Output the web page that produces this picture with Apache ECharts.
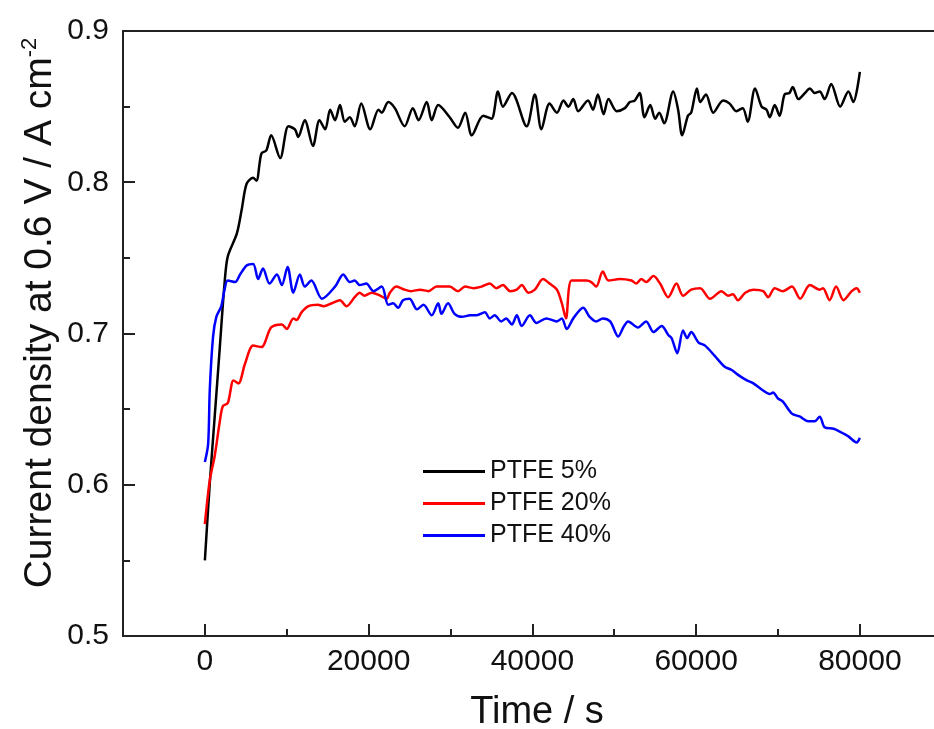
<!DOCTYPE html>
<html>
<head>
<meta charset="utf-8">
<script src="https://cdn.jsdelivr.net/npm/echarts@6/dist/echarts.min.js"></script>
<style>
html,body{margin:0;padding:0;background:#fff;overflow:hidden;}
#chart{width:934px;height:729px;}
</style>
</head>
<body>
<div id="chart"></div>
<script>
// ---- data (time in s, current density in A cm^-2) ----
var seriesNames = ['PTFE 5%', 'PTFE 20%', 'PTFE 40%'];
var xMajorTicks = [0, 20000, 40000, 60000, 80000];
var xMinorTicks = [10000, 30000, 50000, 70000];

var t5 = [0,600,1200,1800,2400,2800,3900,4500,5100,5900,6300,6900,7500,8100,9200,10200,11000,11400,12200,13200,14000,14700,15300,15900,16500,17100,17700,18300,19100,20200,21200,21600,22400,23200,24400,25400,26100,27100,27700,28500,29900,30900,31800,32600,34000,35000,35800,36400,37500,39300,40300,41100,42100,43000,43800,44400,45000,45600,46800,47400,48000,48700,49300,50300,51300,51900,52500,53100,53700,54400,55000,55500,56100,57200,57800,58300,59000,59400,60100,60500,61200,62100,63300,64100,64900,65700,66300,67200,68000,68600,69000,69600,70200,70800,71400,71800,72500,73300,73900,74500,75100,75700,76500,77600,78600,79200,80000];
var v5 = [0.550,0.601,0.645,0.689,0.733,0.751,0.766,0.782,0.799,0.803,0.801,0.819,0.821,0.831,0.816,0.837,0.835,0.830,0.841,0.824,0.841,0.835,0.848,0.841,0.851,0.840,0.843,0.837,0.852,0.835,0.848,0.846,0.853,0.849,0.837,0.849,0.841,0.853,0.841,0.851,0.843,0.836,0.846,0.831,0.844,0.842,0.860,0.850,0.859,0.837,0.858,0.835,0.852,0.846,0.854,0.850,0.855,0.847,0.854,0.848,0.858,0.845,0.855,0.847,0.849,0.853,0.854,0.859,0.843,0.851,0.842,0.846,0.839,0.860,0.848,0.831,0.844,0.846,0.862,0.853,0.858,0.846,0.854,0.852,0.847,0.849,0.840,0.862,0.850,0.848,0.843,0.851,0.844,0.858,0.859,0.863,0.855,0.859,0.862,0.859,0.860,0.855,0.865,0.850,0.860,0.853,0.873];

var t20 = [0,600,1200,1800,2200,2800,3500,4100,4900,5900,6900,8100,9400,10000,10800,11200,11800,12600,13800,14500,15500,16500,17300,18300,18900,19500,20400,21400,22200,22600,23400,24400,25200,26300,27300,28300,29900,30900,31800,32800,33800,34800,35600,36400,37300,38100,38700,39500,40300,41300,42100,43000,43600,44100,44800,46600,47200,47800,48600,49300,50700,52100,52700,53300,53900,54800,55600,56600,57600,58400,59400,60500,61700,63100,63900,64500,65100,66000,67000,68200,68800,69600,70600,71700,72700,73900,75100,75500,76300,77100,78000,79000,79600,80000];
var v20 = [0.574,0.603,0.619,0.641,0.652,0.654,0.669,0.667,0.680,0.692,0.691,0.704,0.706,0.703,0.710,0.709,0.714,0.718,0.719,0.718,0.720,0.722,0.718,0.724,0.727,0.725,0.727,0.725,0.723,0.727,0.731,0.729,0.728,0.729,0.728,0.731,0.731,0.728,0.731,0.730,0.731,0.733,0.730,0.732,0.728,0.729,0.732,0.727,0.729,0.736,0.733,0.729,0.720,0.710,0.735,0.735,0.734,0.731,0.741,0.735,0.736,0.735,0.733,0.736,0.734,0.738,0.733,0.724,0.733,0.725,0.729,0.730,0.723,0.728,0.725,0.726,0.722,0.727,0.729,0.728,0.724,0.730,0.728,0.731,0.723,0.732,0.729,0.730,0.722,0.731,0.722,0.728,0.730,0.727];

var t40 = [0,400,600,1000,1400,2000,2400,2800,3700,4300,5100,5900,6500,7100,7900,8800,9400,10100,10800,11600,12200,13000,14300,15900,16900,17700,18300,18900,19700,20600,21600,22400,23000,23600,24200,25000,25900,26700,27700,28500,28900,29700,30500,31400,32400,33200,34200,34800,35400,36200,36800,37500,38100,38700,39700,40500,41700,43000,43600,44200,45000,46200,47000,47800,48600,49500,50500,51100,51700,52900,53900,54800,55800,56600,57000,57700,58400,58900,59400,60300,61100,62300,63500,64300,65300,66200,67000,68000,69000,69400,70000,70600,71700,72700,73700,74500,75100,75700,76800,77600,78600,79600,80000];
var v40 = [0.615,0.627,0.663,0.698,0.711,0.718,0.729,0.735,0.734,0.739,0.745,0.746,0.736,0.743,0.733,0.739,0.732,0.744,0.727,0.739,0.731,0.735,0.723,0.731,0.739,0.734,0.735,0.732,0.733,0.728,0.731,0.719,0.720,0.717,0.722,0.723,0.716,0.719,0.712,0.720,0.713,0.720,0.713,0.711,0.712,0.712,0.714,0.710,0.712,0.708,0.710,0.706,0.712,0.705,0.712,0.707,0.710,0.708,0.710,0.703,0.710,0.717,0.711,0.708,0.710,0.708,0.698,0.704,0.708,0.704,0.708,0.701,0.705,0.699,0.697,0.687,0.702,0.697,0.701,0.694,0.692,0.685,0.678,0.676,0.672,0.669,0.667,0.663,0.660,0.661,0.657,0.655,0.647,0.645,0.642,0.642,0.645,0.638,0.637,0.635,0.632,0.628,0.631];

function zip(t, v) { return t.map(function (x, i) { return [x, v[i]]; }); }

var chart = echarts.init(document.getElementById('chart'), null, {renderer: 'canvas'});
var FONT = 'Liberation Sans, Arial, sans-serif';
var AX = '#222';

var option = {
  animation: false,
  backgroundColor: '#fff',
  grid: {
    left: 123, top: 31, width: 900.6, height: 605,
    outerBoundsMode: 'none', containLabel: false, show: false
  },
  legend: {
    orient: 'vertical', left: 418, top: 454,
    itemWidth: 62, itemHeight: 3, itemGap: 7,
    icon: 'rect',
    textStyle: {fontFamily: FONT, fontSize: 25, color: '#111'},
    data: seriesNames
  },
  xAxis: [{
    type: 'value', min: -10000, max: 100000,
    axisLine: {show: true, onZero: false, lineStyle: {color: AX, width: 2}},
    axisTick: {show: true, inside: true, length: 12, customValues: xMajorTicks, lineStyle: {color: AX, width: 2}},
    axisLabel: {show: true, customValues: xMajorTicks, fontFamily: FONT, fontSize: 30, color: '#111', margin: 11,
      formatter: function (v) { return String(v); }},
    splitLine: {show: false}
  }, {
    type: 'value', min: -10000, max: 100000, position: 'bottom',
    axisLine: {show: false, onZero: false},
    axisTick: {show: true, inside: true, length: 7, customValues: xMinorTicks, lineStyle: {color: AX, width: 2}},
    axisLabel: {show: false},
    splitLine: {show: false}
  }, {
    type: 'value', min: -10000, max: 100000, position: 'top',
    axisLine: {show: true, onZero: false, lineStyle: {color: AX, width: 2}},
    axisTick: {show: false}, axisLabel: {show: false}, splitLine: {show: false}
  }],
  yAxis: {
    type: 'value', min: 0.5, max: 0.9, interval: 0.1,
    axisLine: {show: true, onZero: false, lineStyle: {color: AX, width: 2}},
    axisTick: {show: true, inside: true, length: 12, lineStyle: {color: AX, width: 2}},
    minorTick: {show: true, splitNumber: 2, length: 7, lineStyle: {color: AX, width: 2}},
    axisLabel: {fontFamily: FONT, fontSize: 30, color: '#111', margin: 14,
      formatter: function (v) { return v.toFixed(1); }},
    splitLine: {show: false}
  },
  graphic: [{
    type: 'text', x: 40, y: 313, rotation: Math.PI / 2,
    style: {
      text: '{n|Current density at 0.6 V / A cm}{s|-2}',
      align: 'center', verticalAlign: 'middle',
      fill: '#111',
      rich: {
        n: {fontFamily: FONT, fontSize: 39, fill: '#111'},
        s: {fontFamily: FONT, fontSize: 22, fill: '#111', verticalAlign: 'top', padding: [0, 0, 20, 0]}
      }
    }
  }, {
    type: 'text', x: 537, y: 713,
    style: {
      text: 'Time / s', align: 'center', verticalAlign: 'middle',
      fontFamily: FONT, fontSize: 38, fill: '#111'
    }
  }],
  series: [
    {name: seriesNames[0], type: 'line', data: zip(t5, v5), showSymbol: false, smooth: 0.3,
     color: '#000', lineStyle: {color: '#000', width: 2.5}},
    {name: seriesNames[1], type: 'line', data: zip(t20, v20), showSymbol: false, smooth: 0.3,
     color: '#ff0000', lineStyle: {color: '#ff0000', width: 2.5}},
    {name: seriesNames[2], type: 'line', data: zip(t40, v40), showSymbol: false, smooth: 0.3,
     color: '#0000ff', lineStyle: {color: '#0000ff', width: 2.5}}
  ]
};
chart.setOption(option);
</script>
</body>
</html>
